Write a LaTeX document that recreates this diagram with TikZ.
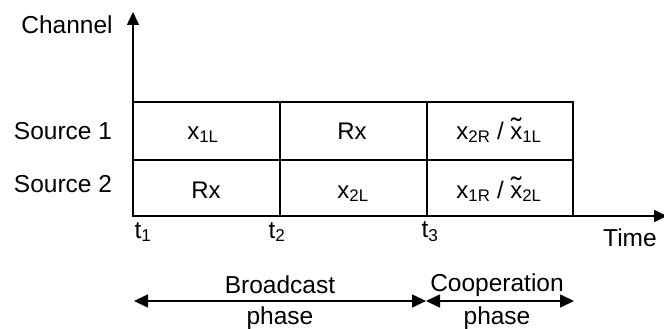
\documentclass[tikz,border=0pt]{standalone}
\usepackage{fontspec}
\setmainfont{Liberation Sans}
\usetikzlibrary{arrows.meta}
\tikzset{
  lbl/.style={inner sep=0pt, font=\fontsize{24.5}{28}\selectfont},
  cell/.style={inner sep=0pt, font=\fontsize{24}{28}\selectfont},
  ln/.style={line width=1.6pt},
  arr/.style={line width=1.6pt, -{Triangle[length=13pt,width=12pt]}},
  darr/.style={line width=1.6pt, {Triangle[length=14pt,width=13pt]}-{Triangle[length=14pt,width=13pt]}}
}
\newcommand{\tx}{\leavevmode\ooalign{x\cr\hidewidth\raisebox{0.02em}{\scalebox{1.3}[1.2]{\char"02DC}}\hidewidth\cr}}
\begin{document}
\begin{tikzpicture}[x=1pt,y=-1pt]
\useasboundingbox (0,0) rectangle (664,329);
% axes
\coordinate (o) at (133,216);
\coordinate (ytop) at (133,12);
\coordinate (xend) at (667,216);
\draw[arr] (o) -- (ytop);
\draw[arr] (o) -- (xend);
% table
\coordinate (a0) at (133,102);
\coordinate (a3) at (573,216);
\draw[ln] (a0) rectangle (a3);
\coordinate (m0) at (133,160);
\coordinate (m1) at (573,160);
\draw[ln] (m0) -- (m1);
\coordinate (c1t) at (280,102);
\coordinate (c1b) at (280,216);
\coordinate (c2t) at (427,102);
\coordinate (c2b) at (427,216);
\draw[ln] (c1t) -- (c1b);
\draw[ln] (c2t) -- (c2b);
% labels
\node[lbl] (ch) at (67,25) {Channel};
\node[lbl] (s1) at (63,131) {Source 1};
\node[lbl] (s2) at (63,184) {Source 2};
\node[lbl] (tm) at (630,238) {Time};
\node[lbl] (t1) at (143,232) {t\textsubscript{1}};
\node[lbl] (t2) at (277,232) {t\textsubscript{2}};
\node[lbl] (t3) at (430,232) {t\textsubscript{3}};
% cells
\node[cell,anchor=base] (x1l) at (203,139) {x\textsubscript{1L}};
\node[cell,anchor=base] (rx1) at (352,139) {Rx};
\node[cell,anchor=base] (x2r) at (499,139) {x\textsubscript{2R} / \tx\textsubscript{1L}};
\node[cell,anchor=base] (rx2) at (206,198) {Rx};
\node[cell,anchor=base] (x2l) at (353,198) {x\textsubscript{2L}};
\node[cell,anchor=base] (x1r) at (499,198) {x\textsubscript{1R} / \tx\textsubscript{2L}};
% phases
\coordinate (b0) at (134,301);
\coordinate (b1) at (426,301);
\coordinate (b2) at (574,301);
\draw[darr] (b0) -- (b1);
\draw[darr] (b1) -- (b2);
\node[lbl] (bc) at (280,285) {Broadcast};
\node[lbl] (bp) at (280,318) {phase};
\node[lbl] (cp) at (497,285) {Cooperation};
\node[lbl] (cpp) at (497,318) {phase};
\end{tikzpicture}
\end{document}
